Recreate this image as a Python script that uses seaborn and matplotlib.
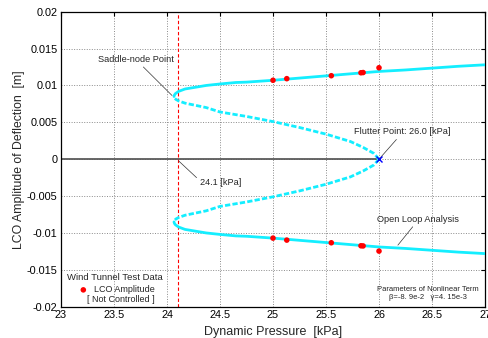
import matplotlib
matplotlib.use("Agg")
import matplotlib.pyplot as plt
import seaborn as sns

# ---- data -------------------------------------------------------------
# Unstable LCO branch (dashed): from the flutter point back to the saddle-node
unstable_q = [26.00, 25.95, 25.85, 25.73, 25.50, 25.25, 25.00, 24.75, 24.50,
              24.37, 24.17, 24.11, 24.085, 24.07, 24.066]
unstable_amp = [0.0000, 0.0008, 0.0016, 0.0024, 0.0034, 0.0043, 0.0051, 0.0058,
                0.0064, 0.0070, 0.0076, 0.0079, 0.0081, 0.0083, 0.0085]

# Stable LCO branch (solid): from the saddle-node out to high pressure
stable_q = [24.066, 24.07, 24.08, 24.11, 24.17, 24.37, 24.50, 24.65, 24.75,
            25.00, 25.25, 25.50, 25.75, 26.00, 26.25, 26.50, 26.75, 27.00]
stable_amp = [0.0085, 0.0087, 0.0089, 0.0092, 0.00952, 0.0100, 0.0102, 0.0104,
              0.01045, 0.0107, 0.0110, 0.0113, 0.0116, 0.0119, 0.0121, 0.01235,
              0.0126, 0.0128]

# Lower half of the amplitude diagram
unstable_amp_lower = [-a for a in unstable_amp]
stable_amp_lower = [-a for a in stable_amp]

# Zero-amplitude (stable equilibrium) branch up to flutter
zero_q = [23.0, 26.0]
zero_amp = [0.0, 0.0]

# Wind tunnel test data (LCO amplitude, not controlled)
test_q = [25.00, 25.13, 25.55, 25.83, 25.85, 26.00]
test_amp_upper = [0.0107, 0.01092, 0.01132, 0.01172, 0.01175, 0.0124]
test_amp_lower = [-0.0107, -0.01097, -0.01133, -0.01174, -0.01176, -0.01246]

saddle_q = 24.1
saddle_amp = 0.0085
flutter_q = 26.0
flutter_amp = 0.0

x_ticks = [23, 23.5, 24, 24.5, 25, 25.5, 26, 26.5, 27]
y_ticks = [-0.02, -0.015, -0.01, -0.005, 0, 0.005, 0.01, 0.015, 0.02]

# ---- style ------------------------------------------------------------
sns.set_style("white")
plt.rcParams["font.family"] = ["Liberation Sans", "DejaVu Sans"]
plt.rcParams["axes.unicode_minus"] = False

fig = plt.figure(figsize=(4.89, 3.38), dpi=100)
ax = fig.add_axes([61 / 489, 1 - 306.7 / 338, (485 - 61) / 489, (306.7 - 11.7) / 338])

cyan = "#14eeff"
dash = (0, (1.9, 0.8))

ax.grid(True, color="#8a8a8a", linestyle=(0, (1, 1.6)), linewidth=0.7)
ax.set_axisbelow(True)

sns.lineplot(x=zero_q, y=zero_amp, sort=False, estimator=None, ax=ax,
             color="#5a5a5a", linewidth=1.3, zorder=2)
ax.axvline(saddle_q, color="red", linewidth=0.8, linestyle=(0, (3, 2)), zorder=2)

for q, a, ls in [(unstable_q, unstable_amp, dash),
                 (stable_q, stable_amp, "-"),
                 (unstable_q, unstable_amp_lower, dash),
                 (stable_q, stable_amp_lower, "-")]:
    sns.lineplot(x=q, y=a, sort=False, estimator=None, ax=ax, color=cyan,
                 linewidth=2.0, linestyle=ls, zorder=3)

sns.scatterplot(x=test_q, y=test_amp_upper, ax=ax, color="red", s=16,
                edgecolor="none", zorder=4, label="LCO Amplitude")
sns.scatterplot(x=test_q, y=test_amp_lower, ax=ax, color="red", s=16,
                edgecolor="none", zorder=4)

ax.plot([flutter_q], [flutter_amp], marker="x", color="blue", markersize=5,
        markeredgewidth=1.0, linestyle="none", zorder=5)

# ---- axes -------------------------------------------------------------
ax.set_xlim(23, 27)
ax.set_ylim(-0.02, 0.02)
ax.set_xticks(x_ticks)
ax.set_xticklabels([f"{t:g}" for t in x_ticks])
ax.set_yticks(y_ticks)
ax.set_yticklabels([f"{t:g}" for t in y_ticks])
ax.tick_params(direction="in", length=3, width=0.8, top=True, right=True,
               labelsize=7.8, pad=2.5, colors="black")
for s in ax.spines.values():
    s.set_visible(True)
    s.set_color("black")
    s.set_linewidth(0.9)

ax.set_xlabel("Dynamic Pressure  [kPa]", fontsize=9, labelpad=4)
ax.set_ylabel("LCO Amplitude of Deflection  [m]", fontsize=8.8, labelpad=1)

# ---- annotations ------------------------------------------------------
line_kw = dict(arrowstyle="-", color="#333333", linewidth=0.5, shrinkA=0, shrinkB=1)
ax.annotate("Saddle-node Point", xy=(24.057, saddle_amp), xytext=(23.71, 0.01356),
            ha="center", va="center", fontsize=6.6,
            arrowprops=dict(**line_kw, relpos=(0.55, 0.0)))
ax.annotate("24.1 [kPa]", xy=(saddle_q, -0.0001), xytext=(24.31, -0.0031),
            ha="left", va="center", fontsize=6.6,
            arrowprops=dict(**line_kw, relpos=(0.0, 0.65)))
ax.annotate("Flutter Point: 26.0 [kPa]", xy=(flutter_q, flutter_amp),
            xytext=(25.764, 0.00373), ha="left", va="center", fontsize=6.6,
            arrowprops=dict(**line_kw, relpos=(0.47, 0.0)))
ax.annotate("Open Loop Analysis", xy=(26.17, -0.0118), xytext=(25.98, -0.00811),
            ha="left", va="center", fontsize=6.6,
            arrowprops=dict(**line_kw, relpos=(0.47, 0.0)))

leg = ax.legend(loc="lower left", bbox_to_anchor=(0.005, 0.03), frameon=False,
                title="Wind Tunnel Test Data", fontsize=6.5, title_fontsize=6.8,
                handletextpad=0.2, borderaxespad=0.2, borderpad=0.2,
                markerscale=1.0)
leg._legend_box.sep = 2
ax.text(23.245, -0.01896, "[ Not Controlled ]", fontsize=6.5, ha="left", va="center")

ax.text(0.985, 0.018, "Parameters of Nonlinear Term\nβ=-8. 9e-2   γ=4. 15e-3",
        transform=ax.transAxes, ha="right", va="bottom", multialignment="center",
        fontsize=5.5, linespacing=1.3)

fig.savefig("out.png", dpi=100)
